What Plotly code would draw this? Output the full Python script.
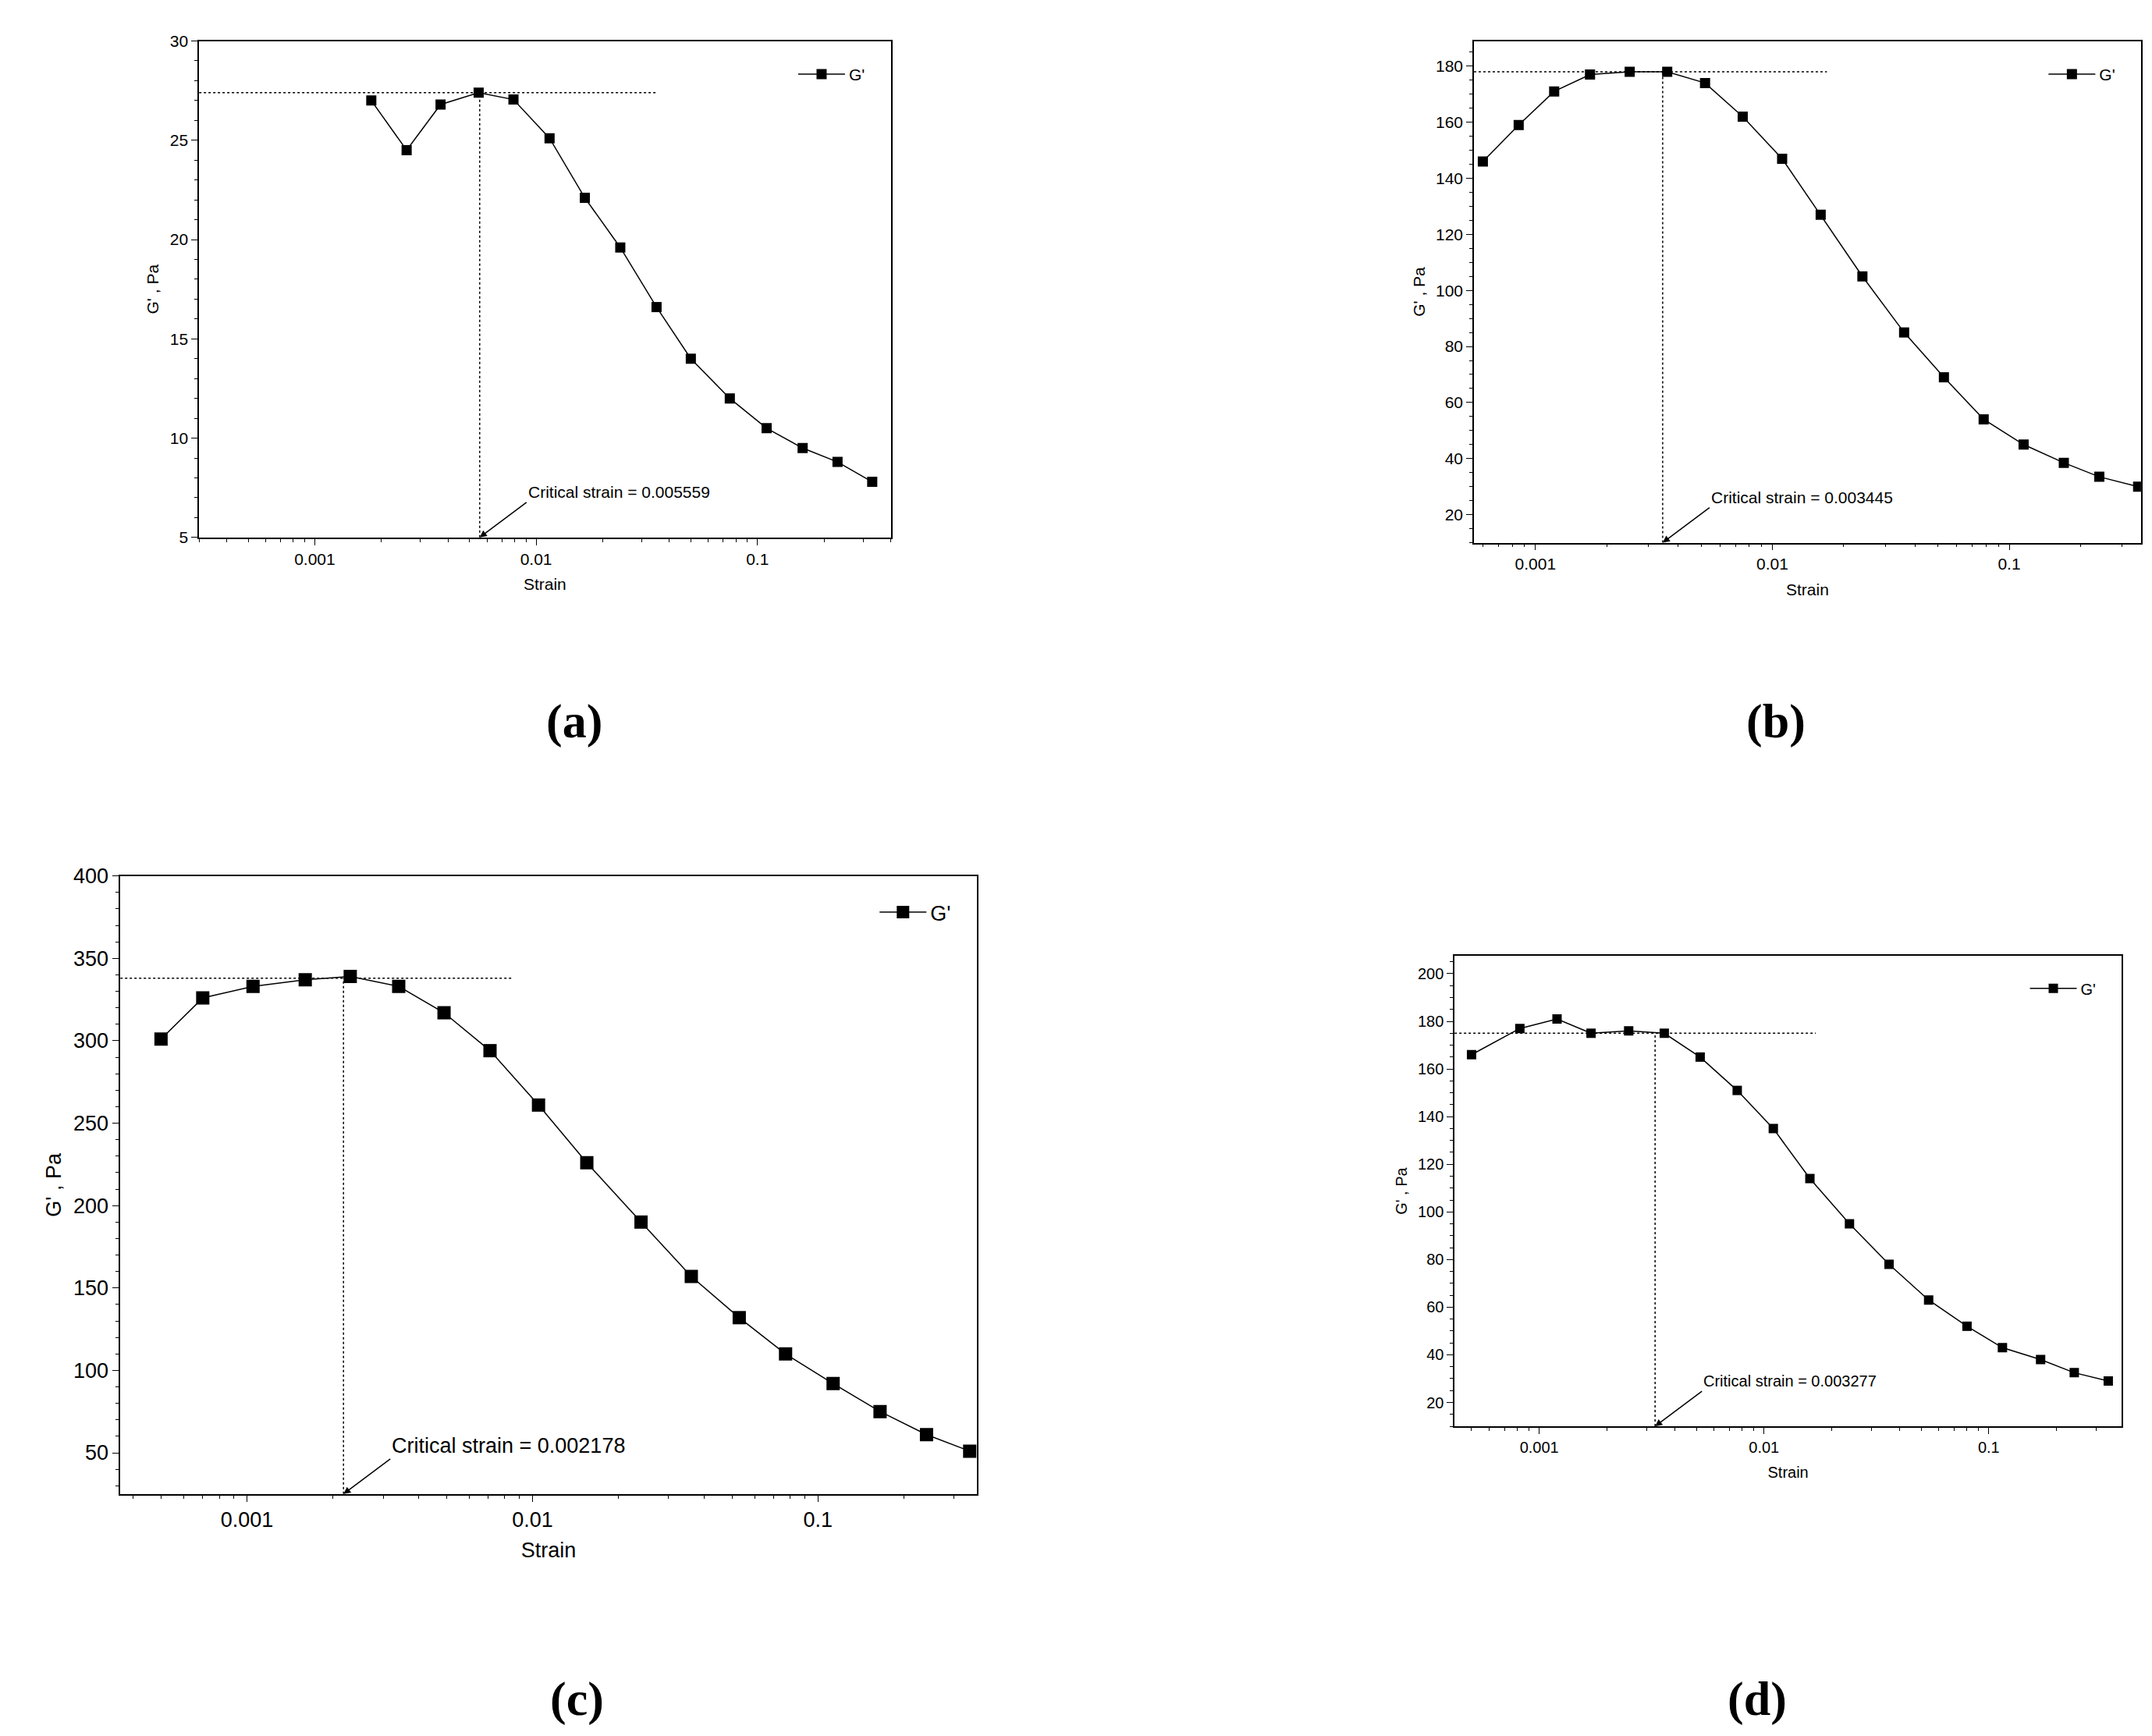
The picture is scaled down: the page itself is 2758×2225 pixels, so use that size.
import math
import plotly.graph_objects as go

# panel data
strain_a = [0.0018, 0.0026, 0.0037, 0.0055, 0.0079, 0.0115, 0.0166, 0.024, 0.035, 0.05, 0.075, 0.11, 0.16, 0.23, 0.33]
g_a = [27.0, 24.5, 26.8, 27.4, 27.05, 25.1, 22.1, 19.6, 16.6, 14.0, 12.0, 10.5, 9.5, 8.8, 7.8]

strain_b = [0.0006, 0.00085, 0.0012, 0.0017, 0.0025, 0.0036, 0.0052, 0.0075, 0.011, 0.016, 0.024, 0.036, 0.053, 0.078, 0.115, 0.17, 0.24, 0.35]
g_b = [146, 159, 171, 177, 178, 178, 174, 162, 147, 127, 105, 85, 69, 54, 45, 38.5, 33.5, 30]

strain_c = [0.0005, 0.0007, 0.00105, 0.0016, 0.0023, 0.0034, 0.0049, 0.0071, 0.0105, 0.0155, 0.024, 0.036, 0.053, 0.077, 0.113, 0.165, 0.24, 0.34]
g_c = [301, 326, 333, 337, 339, 333, 317, 294, 261, 226, 190, 157, 132, 110, 92, 75, 61, 51]

strain_d = [0.0005, 0.00082, 0.0012, 0.0017, 0.0025, 0.0036, 0.0052, 0.0076, 0.011, 0.016, 0.024, 0.036, 0.054, 0.08, 0.115, 0.17, 0.24, 0.34]
g_d = [166, 177, 181, 175, 176, 175, 165, 151, 135, 114, 95, 78, 63, 52, 43, 38, 32.5, 29]

critical = [0.005559, 0.003445, 0.002178, 0.003277]
plateau = [27.4, 178, 338, 175]
plateau_end = [0.035, 0.017, 0.0085, 0.017]
panel_labels = ["(a)", "(b)", "(c)", "(d)"]

panels = [
    dict(s=strain_a, g=g_a, xd=[0.0896, 0.411], yd=[0.694, 0.980], xr=[0.0003, 0.4], yr=[5, 30], dt=5, f=21, m=13, ly=0.588),
    dict(s=strain_b, g=g_b, xd=[0.682, 0.992], yd=[0.691, 0.980], xr=[0.00055, 0.36], yr=[10, 189], dt=20, f=21, m=13, ly=0.588),
    dict(s=strain_c, g=g_c, xd=[0.053, 0.451], yd=[0.143, 0.499], xr=[0.00036, 0.36], yr=[25, 400], dt=50, f=27, m=17, ly=0.025),
    dict(s=strain_d, g=g_d, xd=[0.673, 0.983], yd=[0.182, 0.453], xr=[0.00042, 0.39], yr=[10, 207.5], dt=20, f=20, m=12, ly=0.025),
]

fig = go.Figure()
for i, p in enumerate(panels):
    n = "" if i == 0 else str(i + 1)
    xa, ya = "x" + n, "y" + n
    lg = "legend" + n
    fig.add_trace(go.Scatter(x=p["s"], y=p["g"], mode="lines+markers", name="G'",
                             line=dict(color="black", width=1.5),
                             marker=dict(symbol="square", size=p["m"], color="black"),
                             xaxis=xa, yaxis=ya, legend=lg))
    fig.add_trace(go.Scatter(x=[p["xr"][0], plateau_end[i]], y=[plateau[i]] * 2, mode="lines",
                             line=dict(color="black", width=1.5, dash="dot"), showlegend=False,
                             xaxis=xa, yaxis=ya))
    fig.add_trace(go.Scatter(x=[critical[i]] * 2, y=[p["yr"][0], plateau[i]], mode="lines",
                             line=dict(color="black", width=1.5, dash="dot"), showlegend=False,
                             xaxis=xa, yaxis=ya))
    axfont = dict(family="Liberation Sans, Arial", size=p["f"], color="black")
    fig.layout["xaxis" + n] = dict(type="log", range=[math.log10(v) for v in p["xr"]], domain=p["xd"],
                                   anchor=ya, automargin=False,
                                   showline=True, mirror=True, linecolor="black", linewidth=1.5,
                                   ticks="outside", ticklen=8, tickcolor="black",
                                   tickvals=[0.001, 0.01, 0.1], ticktext=["0.001", "0.01", "0.1"],
                                   minor=dict(ticks="outside", ticklen=4, tickcolor="black",
                                              tickvals=[k * 10.0 ** e for e in (-4, -3, -2, -1) for k in range(2, 10)]),
                                   showgrid=False, zeroline=False, tickfont=axfont,
                                   title=dict(text="Strain", font=axfont))
    fig.layout["yaxis" + n] = dict(range=p["yr"], domain=p["yd"], anchor=xa, dtick=p["dt"], automargin=False,
                                   showline=True, mirror=True, linecolor="black", linewidth=1.5,
                                   ticks="outside", ticklen=8, tickcolor="black",
                                   minor=dict(ticks="outside", ticklen=4, tickcolor="black"),
                                   showgrid=False, zeroline=False, tickfont=axfont,
                                   title=dict(text="G' , Pa", font=axfont, standoff=8))
    fig.layout[lg] = dict(x=p["xd"][1] - 0.01, y=p["yd"][1] - 0.01, xanchor="right", yanchor="top",
                          bgcolor="rgba(0,0,0,0)", font=axfont, itemwidth=60)
    fig.add_annotation(x=math.log10(critical[i]), y=p["yr"][0], xref=xa, yref=ya,
                       text="Critical strain = %g" % critical[i], showarrow=True,
                       arrowhead=2, arrowsize=1.2, arrowwidth=1.5, arrowcolor="black", ax=60, ay=-45,
                       xanchor="left", yanchor="bottom", font=axfont)
    fig.add_annotation(x=sum(p["xd"]) / 2, y=p["ly"], xref="paper", yref="paper",
                       text="<b>" + panel_labels[i] + "</b>", showarrow=False, yanchor="middle",
                       font=dict(family="Liberation Serif, Times New Roman", size=62, color="black"))

fig.update_layout(width=2758, height=2225, margin=dict(l=0, r=0, t=0, b=0, autoexpand=False),
                  plot_bgcolor="white", paper_bgcolor="white")
fig.write_html("out.html")
